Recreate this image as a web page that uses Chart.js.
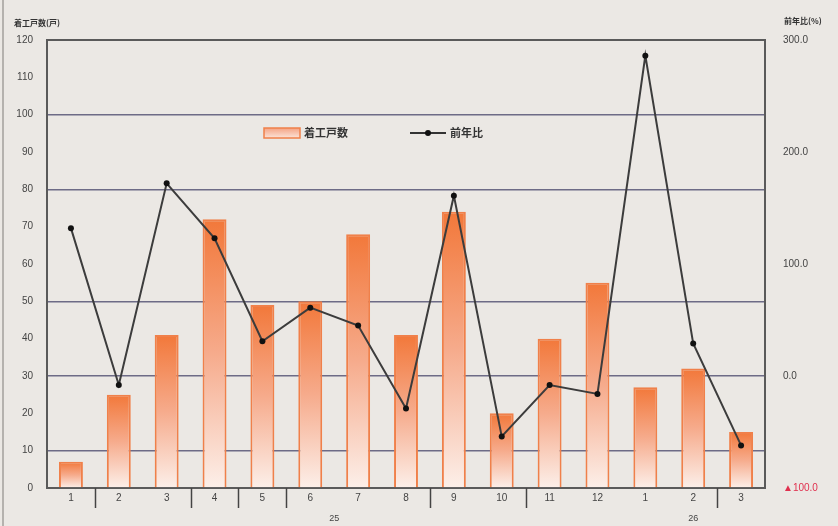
<!DOCTYPE html>
<html>
<head>
<meta charset="utf-8">
<script src="https://cdn.jsdelivr.net/npm/chart.js@4/dist/chart.umd.min.js"></script>
<style>
  html, body { margin: 0; padding: 0; background: #ebe8e4; }
  #wrap { width: 838px; height: 526px; position: relative; }
</style>
</head>
<body>
<div id="wrap"><canvas id="c" width="838" height="526"></canvas></div>
<script>
// Monthly housing starts (units) and year-on-year change (%)
const months = ['1', '2', '3', '4', '5', '6', '7', '8', '9', '10', '11', '12', '1', '2', '3'];
const starts = [7, 25, 41, 72, 49, 50, 68, 41, 74, 20, 40, 55, 27, 32, 15];
const yoyChange = [132, -8, 172, 123, 31, 61, 45, -29, 161, -54, -8, -16, 286, 29, -62];
const yearLabels = ['25', '26'];
const yearAt = [5.5, 13];              // category position under which each year is written
const dividerAfter = [0, 2, 3, 4, 7, 9, 13]; // separators drawn after these categories
const gridValues = [10, 30, 50, 80, 100];    // horizontal rules on the unit axis
const seriesNames = ['着工戸数', '前年比'];
const axisTitles = ['着工戸数(戸)', '前年比(%)'];

const FONT = "'Liberation Sans', 'Noto Sans CJK JP', sans-serif";
const JP = "'Noto Sans CJK JP', 'Liberation Sans', sans-serif";

function barFill(ctx) {
  const chart = ctx.chart;
  if (!chart.chartArea || ctx.type !== 'data' || !chart.scales.y) return '#f4a070';
  const top = chart.scales.y.getPixelForValue(ctx.raw);
  const bottom = chart.scales.y.getPixelForValue(0);
  const g = chart.ctx.createLinearGradient(0, top, 0, bottom);
  g.addColorStop(0, '#f2783a');
  g.addColorStop(0.5, '#f6ab8c');
  g.addColorStop(1, '#fcefe9');
  return g;
}

const decor = {
  id: 'decor',
  beforeDatasetsDraw(chart) {
    const { ctx, chartArea: a } = chart;
    ctx.save();
    ctx.strokeStyle = '#5a5a5a';
    ctx.lineWidth = 2;
    ctx.strokeRect(a.left, a.top, a.right - a.left, a.bottom - a.top);
    ctx.restore();
  },
  afterDraw(chart) {
    const { ctx, chartArea: a, scales } = chart;
    const x = scales.x;
    ctx.save();
    // outer left edge
    ctx.strokeStyle = '#b5b2ae';
    ctx.lineWidth = 2;
    ctx.beginPath(); ctx.moveTo(3, 0); ctx.lineTo(3, 526); ctx.stroke();

    // category separators below the axis
    ctx.strokeStyle = '#444';
    ctx.lineWidth = 1.5;
    dividerAfter.forEach(i => {
      const px = Math.round(x.getPixelForValue(i + 0.5)) + 0.5;
      ctx.beginPath(); ctx.moveTo(px, a.bottom); ctx.lineTo(px, a.bottom + 20); ctx.stroke();
    });

    // year captions
    ctx.fillStyle = '#444';
    ctx.font = '9px ' + FONT;
    ctx.textAlign = 'center';
    ctx.textBaseline = 'middle';
    yearLabels.forEach((t, k) => ctx.fillText(t, x.getPixelForValue(yearAt[k]), 519));

    // axis titles
    ctx.font = 'bold 8px ' + JP;
    ctx.textAlign = 'left';
    ctx.fillStyle = '#333';
    ctx.fillText(axisTitles[0], 14, 23);
    ctx.fillText(axisTitles[1], 784, 21);

    // legend inside the plot
    const ly = 133;
    const bar = chart.data.datasets[0];
    const g = ctx.createLinearGradient(0, ly - 5, 0, ly + 5);
    g.addColorStop(0, '#f5a383'); g.addColorStop(1, '#fbe3d8');
    ctx.fillStyle = g;
    ctx.fillRect(264, ly - 5, 36, 10);
    ctx.strokeStyle = '#f0804a';
    ctx.lineWidth = 1.5;
    ctx.strokeRect(264, ly - 5, 36, 10);
    ctx.fillStyle = '#333';
    ctx.font = 'bold 11px ' + JP;
    ctx.fillText(bar.label, 304, ly);

    const line = chart.data.datasets[1];
    ctx.strokeStyle = '#333';
    ctx.lineWidth = 2;
    ctx.beginPath(); ctx.moveTo(410, ly); ctx.lineTo(446, ly); ctx.stroke();
    ctx.fillStyle = '#111';
    ctx.beginPath(); ctx.arc(428, ly, 3, 0, Math.PI * 2); ctx.fill();
    ctx.fillStyle = '#333';
    ctx.fillText(line.label, 450, ly);
    ctx.restore();
  }
};

new Chart(document.getElementById('c'), {
  data: {
    labels: months,
    datasets: [
      {
        type: 'bar',
        label: seriesNames[0],
        data: starts,
        yAxisID: 'y',
        order: 2,
        backgroundColor: barFill,
        borderColor: '#f0804a',
        borderWidth: { left: 2, right: 2, top: 2, bottom: 0 },
        borderSkipped: false,
        barPercentage: 0.5,
        categoryPercentage: 1
      },
      {
        type: 'line',
        label: seriesNames[1],
        data: yoyChange,
        yAxisID: 'y2',
        order: 1,
        borderColor: '#3c3c3c',
        borderWidth: 2,
        pointRadius: 3,
        pointBackgroundColor: '#111',
        pointBorderWidth: 0,
        tension: 0
      }
    ]
  },
  options: {
    responsive: false,
    devicePixelRatio: 1,
    animation: false,
    layout: { padding: { top: 40, left: 0, right: 0, bottom: 0 } },
    plugins: { legend: { display: false }, tooltip: { enabled: false } },
    scales: {
      x: {
        type: 'category',
        offset: true,
        grid: { display: false, drawTicks: false },
        border: { display: true, color: '#333', width: 2 },
        ticks: { color: '#444', font: { size: 10, family: FONT }, padding: 4, maxRotation: 0, autoSkip: false },
        afterFit(s) { s.height = 38; }
      },
      y: {
        position: 'left',
        min: 0,
        max: 120,
        ticks: { stepSize: 10, color: '#444', font: { size: 10, family: FONT }, padding: 14 },
        grid: {
          drawTicks: false,
          lineWidth: 1.5,
          color: c => gridValues.includes(c.tick.value) ? '#6d6b86' : 'rgba(0,0,0,0)'
        },
        border: { color: '#5a5a5a', width: 2 },
        afterFit(s) { s.width = 47; }
      },
      y2: {
        position: 'right',
        min: -100,
        max: 300,
        ticks: {
          stepSize: 100,
          padding: 18,
          font: { size: 10, family: FONT },
          color: c => c.tick.value < 0 ? '#e0304e' : '#444',
          callback: v => (v < 0 ? '▲' : '') + Math.abs(v).toFixed(1)
        },
        grid: { display: false, drawTicks: false },
        border: { color: '#5a5a5a', width: 2 },
        afterFit(s) { s.width = 73; }
      }
    }
  },
  plugins: [decor]
});
</script>
</body>
</html>
